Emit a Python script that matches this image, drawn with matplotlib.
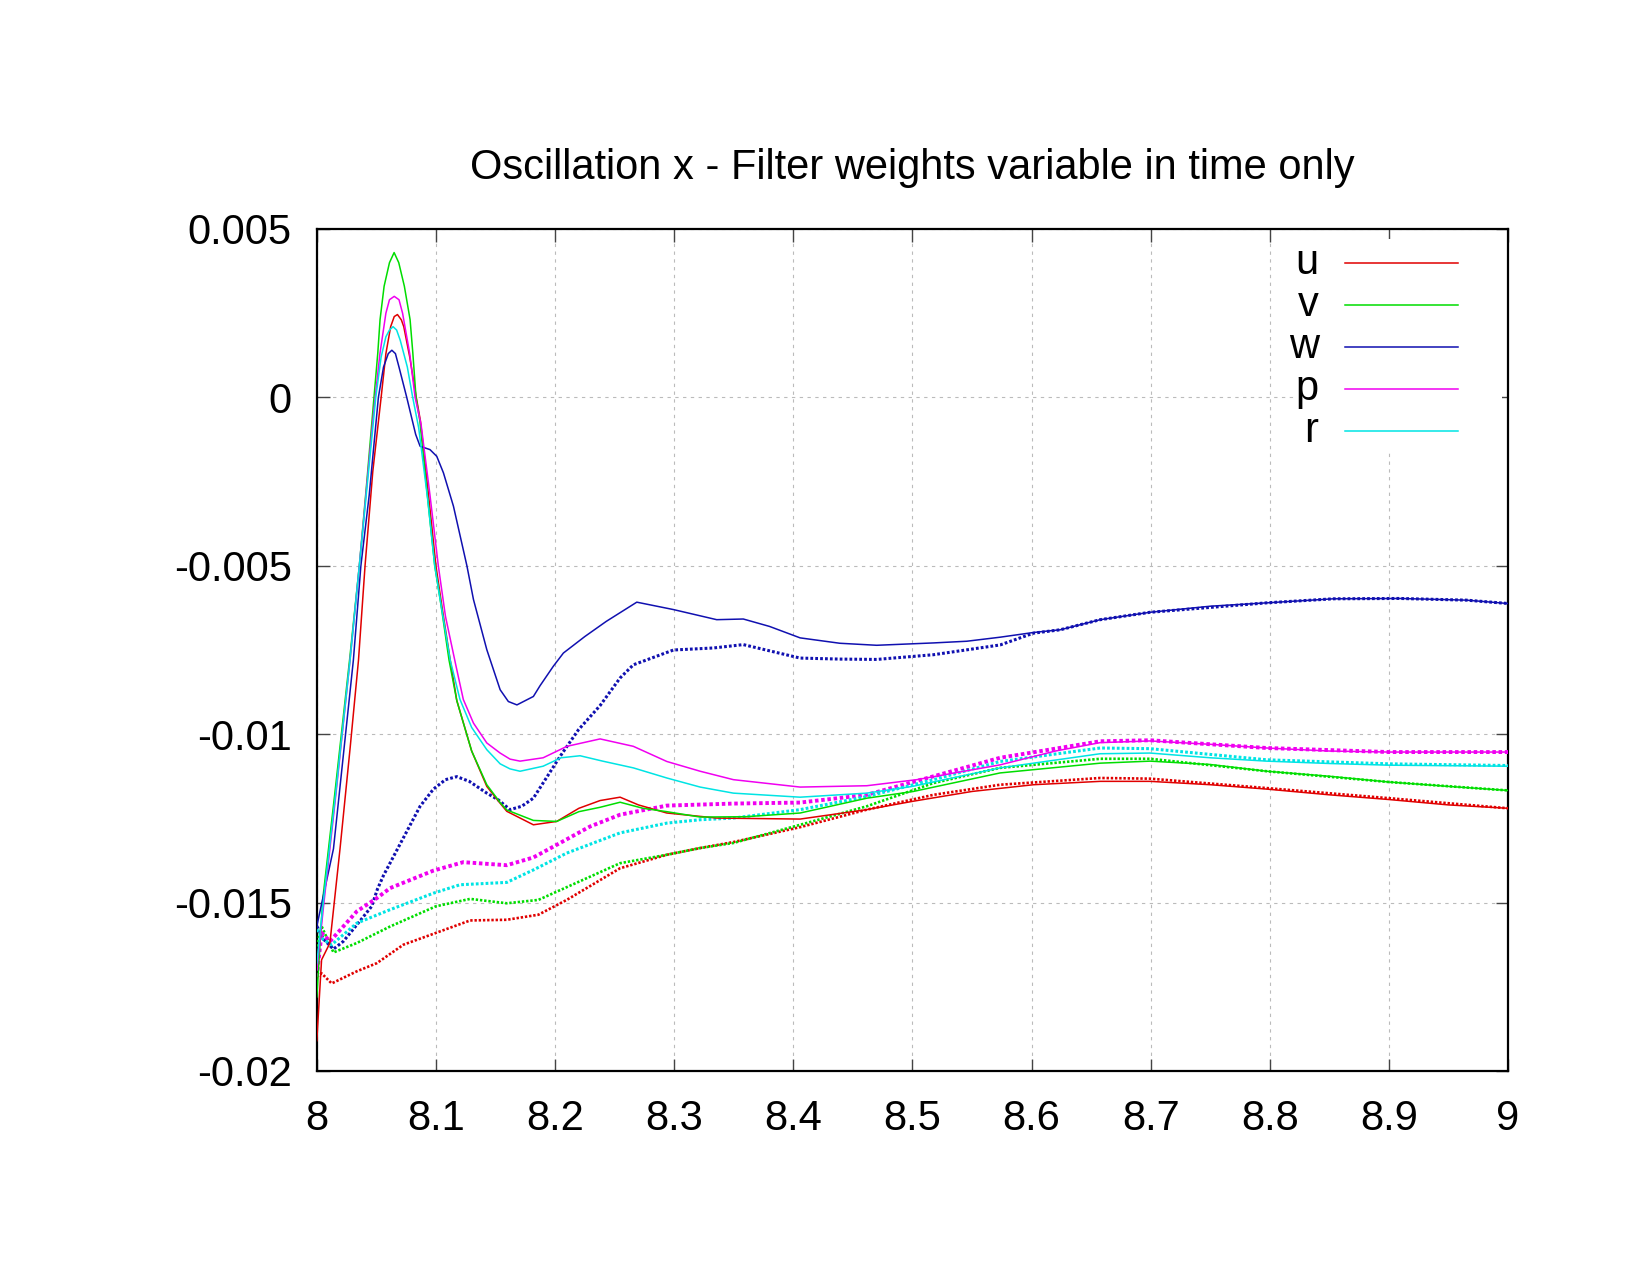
import matplotlib
matplotlib.use("Agg")
import matplotlib.pyplot as plt

plt.rcParams['font.family'] = ['Liberation Sans', 'DejaVu Sans']

"""
Values read off the reference picture (t on x, value on y).
Solid lines: one set of runs, dotted (point) lines: the other set.
"""

# ---- solid lines ----
u_x = [8.0, 8.004, 8.011, 8.0195, 8.028, 8.035, 8.0405, 8.047, 8.054, 8.058, 8.062, 8.065, 8.0677, 8.071,
       8.073, 8.078, 8.0835, 8.087, 8.0935, 8.1, 8.105, 8.112, 8.1175, 8.13, 8.1427, 8.1539, 8.1595, 8.1818,
       8.2014, 8.22, 8.2378, 8.2546, 8.27, 8.2938, 8.3357, 8.4057, 8.4617, 8.5007, 8.55, 8.6016, 8.6576,
       8.6995, 8.75, 8.7974, 8.85, 8.9, 8.95, 9.0]
u_y = [-0.0191, -0.0167, -0.0162, -0.0134, -0.0104, -0.0078, -0.0050, -0.0022, 0.0, 0.0013, 0.0021, 0.0024,
       0.00246, 0.0023, 0.0021, 0.0012, 0.0, -0.0007, -0.0028, -0.0050, -0.0062, -0.0078, -0.0090, -0.0105,
       -0.01155, -0.01205, -0.01229, -0.01269, -0.01259, -0.0122, -0.01197, -0.01187, -0.0121, -0.01234,
       -0.01249, -0.01252, -0.01224, -0.01199, -0.0117, -0.0115, -0.0114, -0.0114, -0.0115, -0.01163,
       -0.0118, -0.01194, -0.0121, -0.0122]

v_x = [8.0, 8.005, 8.015, 8.0275, 8.0357, 8.042, 8.048, 8.0512, 8.0531, 8.0565, 8.061, 8.0649, 8.0688,
       8.0735, 8.0783, 8.0806, 8.0833, 8.0865, 8.0925, 8.099, 8.104, 8.111, 8.1175, 8.13, 8.1427, 8.1539,
       8.1595, 8.1818, 8.2014, 8.22, 8.2378, 8.2546, 8.2738, 8.2938, 8.3218, 8.36, 8.4057, 8.4617, 8.5008,
       8.5736, 8.6576, 8.6995, 8.75, 8.7974, 8.85, 8.9, 8.95, 9.0]
v_y = [-0.0178, -0.0149, -0.0118, -0.0078, -0.0050, -0.0025, 0.0, 0.00132, 0.00231, 0.0033, 0.0040, 0.0043,
       0.0040, 0.0033, 0.00231, 0.00132, 0.0, -0.0007, -0.0028, -0.0050, -0.0061, -0.0078, -0.0090, -0.0105,
       -0.0115, -0.01203, -0.01225, -0.01256, -0.01259, -0.0123, -0.01217, -0.01202, -0.0122, -0.0123,
       -0.01246, -0.01245, -0.01234, -0.0119, -0.0117, -0.01115, -0.01086, -0.0108, -0.0109, -0.0111,
       -0.01125, -0.01142, -0.01155, -0.01167]

w_x = [8.0, 8.014, 8.0307, 8.037, 8.044, 8.0517, 8.056, 8.06, 8.063, 8.066, 8.069, 8.0755, 8.083, 8.0867,
       8.095, 8.1007, 8.1063, 8.1147, 8.126, 8.1315, 8.1427, 8.1539, 8.1608, 8.168, 8.1818, 8.1874, 8.1986,
       8.207, 8.225, 8.243, 8.2686, 8.2994, 8.3357, 8.358, 8.38, 8.4057, 8.439, 8.47, 8.5177, 8.5456, 8.5736,
       8.6016, 8.624, 8.6576, 8.6995, 8.75, 8.7974, 8.8534, 8.909, 8.965, 9.0]
w_y = [-0.0157, -0.0134, -0.0078, -0.0050, -0.0029, 0.0, 0.0009, 0.0013, 0.0014, 0.0013, 0.0009, 0.0,
       -0.0011, -0.00145, -0.00155, -0.00175, -0.00224, -0.00323, -0.0050, -0.0060, -0.00749, -0.00868,
       -0.00903, -0.00913, -0.00888, -0.00856, -0.00798, -0.00759, -0.0071, -0.00665, -0.00608, -0.0063,
       -0.0066, -0.00658, -0.0068, -0.00714, -0.0073, -0.00736, -0.00729, -0.00724, -0.00712, -0.00698,
       -0.0069, -0.0066, -0.00638, -0.0062, -0.0061, -0.00598, -0.00597, -0.00602, -0.00612]

p_x = [8.0, 8.006, 8.016, 8.0279, 8.0357, 8.047, 8.049, 8.053, 8.058, 8.061, 8.065, 8.069, 8.072, 8.078,
       8.0825, 8.0875, 8.095, 8.102, 8.108, 8.117, 8.123, 8.1315, 8.1427, 8.1539, 8.1622, 8.1706, 8.19, 8.21,
       8.2378, 8.2657, 8.2938, 8.3218, 8.3497, 8.4057, 8.4617, 8.5036, 8.5736, 8.62, 8.6576, 8.6995, 8.75,
       8.7974, 8.85, 8.9, 9.0]
p_y = [-0.0170, -0.0150, -0.0118, -0.0078, -0.0050, -0.0007, 0.0, 0.0013, 0.0025, 0.0029, 0.0030, 0.0029,
       0.0025, 0.0013, 0.0, -0.0008, -0.0029, -0.0050, -0.0065, -0.0080, -0.00897, -0.00967, -0.01026,
       -0.01056, -0.01074, -0.0108, -0.0107, -0.01036, -0.01014, -0.01036, -0.01081, -0.0111, -0.01135,
       -0.01157, -0.01153, -0.01135, -0.01091, -0.0105, -0.01025, -0.0102, -0.0103, -0.01041, -0.0105,
       -0.01053, -0.01053]

r_x = [8.0, 8.006, 8.016, 8.0279, 8.0357, 8.047, 8.0495, 8.054, 8.058, 8.061, 8.064, 8.067, 8.07, 8.076,
       8.0805, 8.0855, 8.093, 8.099, 8.104, 8.112, 8.1202, 8.13, 8.1427, 8.1539, 8.1622, 8.1706, 8.19, 8.205,
       8.221, 8.24, 8.2657, 8.2938, 8.3218, 8.3497, 8.4057, 8.4617, 8.5, 8.5736, 8.6576, 8.6995, 8.75,
       8.7974, 8.85, 8.9, 9.0]
r_y = [-0.0168, -0.0148, -0.0117, -0.0078, -0.0050, -0.0009, 0.0, 0.0012, 0.0018, 0.0020, 0.0021, 0.0020,
       0.0017, 0.0009, 0.0, -0.0009, -0.0030, -0.0050, -0.0061, -0.0078, -0.00897, -0.0098, -0.01046,
       -0.01088, -0.01103, -0.0111, -0.01095, -0.0107, -0.01064, -0.0108, -0.0110, -0.0113, -0.01157,
       -0.01175, -0.01187, -0.01175, -0.01155, -0.0110, -0.01058, -0.01056, -0.0107, -0.0108, -0.01087,
       -0.01092, -0.01095]

# ---- dotted (point) lines ----
u2_x = [8.0, 8.004, 8.0125, 8.0336, 8.0503, 8.0727, 8.1, 8.1287, 8.1595, 8.186, 8.2098, 8.2546, 8.2938,
        8.3218, 8.35, 8.4057, 8.4617, 8.5177, 8.5736, 8.6576, 8.6995, 8.7974, 8.9, 9.0]
u2_y = [-0.0172, -0.0171, -0.0174, -0.01704, -0.0168, -0.01625, -0.0159, -0.01553, -0.01551, -0.01536,
        -0.01492, -0.01398, -0.01358, -0.01338, -0.0132, -0.01276, -0.01224, -0.0118, -0.0115, -0.0113,
        -0.01132, -0.0116, -0.0119, -0.0122]

v2_x = [8.0, 8.004, 8.014, 8.0336, 8.0615, 8.1, 8.1287, 8.1595, 8.186, 8.1986, 8.2546, 8.2938, 8.3218,
        8.3497, 8.4057, 8.4617, 8.5177, 8.5736, 8.6576, 8.6995, 8.7974, 8.9, 9.0]
v2_y = [-0.0163, -0.0157, -0.01648, -0.0162, -0.01571, -0.01511, -0.01489, -0.01502, -0.01492, -0.01472,
        -0.01383, -0.01358, -0.01338, -0.01323, -0.01269, -0.01214, -0.01145, -0.0110, -0.01073, -0.01073,
        -0.0111, -0.01142, -0.01167]

w2_x = [8.0, 8.006, 8.014, 8.0223, 8.0336, 8.0461, 8.0509, 8.0559, 8.0671, 8.0867, 8.0979, 8.108, 8.1175,
        8.128, 8.1427, 8.152, 8.1622, 8.172, 8.1818, 8.2042, 8.2196, 8.2378, 8.2546, 8.2657, 8.2994, 8.333,
        8.358, 8.4057, 8.439, 8.47, 8.5177, 8.5736, 8.6016, 8.624, 8.6576, 8.6995, 8.7974, 8.8534, 8.909,
        8.965, 9.0]
w2_y = [-0.0157, -0.0161, -0.01638, -0.01615, -0.01566, -0.01511, -0.0146, -0.0142, -0.01345, -0.01214,
        -0.01163, -0.01135, -0.01126, -0.0114, -0.01175, -0.01194, -0.01224, -0.01214, -0.0119, -0.01066,
        -0.00987, -0.00915, -0.00833, -0.00794, -0.0075, -0.00744, -0.00734, -0.00774, -0.00777, -0.00778,
        -0.00764, -0.00735, -0.007, -0.0069, -0.0066, -0.00638, -0.0061, -0.00598, -0.00597, -0.00602,
        -0.00612]

p2_x = [8.0, 8.004, 8.0111, 8.0336, 8.0503, 8.0615, 8.0979, 8.123, 8.1595, 8.1818, 8.2042, 8.2294, 8.2546,
        8.2938, 8.3218, 8.3497, 8.4057, 8.4617, 8.5177, 8.5736, 8.6576, 8.6995, 8.7974, 8.9, 9.0]
p2_y = [-0.0172, -0.0159, -0.01615, -0.01526, -0.01487, -0.01457, -0.01405, -0.0138, -0.01389, -0.01366,
        -0.01323, -0.01274, -0.01239, -0.01212, -0.01209, -0.01206, -0.01203, -0.0118, -0.01125, -0.0107,
        -0.01021, -0.01018, -0.01041, -0.01053, -0.01053]

r2_x = [8.0, 8.0055, 8.0125, 8.0336, 8.0615, 8.0979, 8.1202, 8.1595, 8.1818, 8.2098, 8.2546, 8.2938,
        8.3218, 8.3497, 8.4057, 8.4617, 8.5177, 8.5736, 8.6576, 8.6995, 8.7974, 8.9, 9.0]
r2_y = [-0.0158, -0.0161, -0.01625, -0.01561, -0.01521, -0.01472, -0.01447, -0.0144, -0.01403, -0.01353,
        -0.01293, -0.01264, -0.01254, -0.01249, -0.01224, -0.01185, -0.01135, -0.01081, -0.01041, -0.01043,
        -0.01076, -0.01088, -0.01093]

labels = ["u", "v", "w", "p", "r"]
colors = ["#e00000", "#00dd00", "#1010b0", "#f000f0", "#00e4e4"]

x_ticks = [8.0, 8.1, 8.2, 8.3, 8.4, 8.5, 8.6, 8.7, 8.8, 8.9, 9.0]
x_tick_labels = ["8", "8.1", "8.2", "8.3", "8.4", "8.5", "8.6", "8.7", "8.8", "8.9", "9"]
y_ticks = [0.005, 0.0, -0.005, -0.01, -0.015, -0.02]
y_tick_labels = ["0.005", "0", "-0.005", "-0.01", "-0.015", "-0.02"]

title = "Oscillation x - Filter weights variable in time only"

"""
======PLOTTING======
"""
FS = 30

fig = plt.figure(figsize=(16.5, 12.75), dpi=100)
ax = fig.add_axes([0.192, 0.16, 0.722, 0.6604])

solid = [(u_x, u_y), (v_x, v_y), (w_x, w_y), (p_x, p_y), (r_x, r_y)]
dotted = [(u2_x, u2_y), (v2_x, v2_y), (w2_x, w2_y), (p2_x, p2_y), (r2_x, r2_y)]

# point series imitated with a tight dot pattern
dot_lw = [1.9, 1.9, 2.2, 2.8, 2.2]
for (xs, ys), c, lw in zip(dotted, colors, dot_lw):
    ax.plot(xs, ys, color=c, lw=lw, linestyle=(0, (0.9, 0.7)), zorder=3)

for (xs, ys), c in zip(solid, colors):
    ax.plot(xs, ys, color=c, lw=1.1, zorder=4)

ax.set_xlim(8, 9)
ax.set_ylim(-0.02, 0.005)
ax.set_xticks(x_ticks)
ax.set_xticklabels(x_tick_labels)
ax.set_yticks(y_ticks)
ax.set_yticklabels(y_tick_labels)
ax.tick_params(direction='in', length=9, width=1, color='#444444', top=True, right=True,
               labelsize=FS)
ax.tick_params(axis='x', pad=20)
ax.tick_params(axis='y', pad=18)

ax.grid(True, color='#bbbbbb', lw=0.8, linestyle=(0, (3, 4)))
ax.set_axisbelow(True)
for s in ax.spines.values():
    s.set_linewidth(1.6)
    s.set_color('black')

ax.set_title(title, fontsize=FS, pad=36)

# key, gnuplot style: label right-justified, sample line to its right
ax.add_patch(plt.Rectangle((0.82, 0.738), 0.175, 0.25, transform=ax.transAxes,
                           facecolor='white', edgecolor='none', zorder=2))
for i, (lab, c) in enumerate(zip(labels, colors)):
    yk = 0.9596 - i * 0.05
    ax.plot([0.8631, 0.9576], [yk, yk], transform=ax.transAxes, color=c, lw=1.1, zorder=5)
    ax.text(0.8409, yk, lab, transform=ax.transAxes, ha='right', va='center', fontsize=FS, zorder=5)

fig.savefig("out.png", dpi=100)
